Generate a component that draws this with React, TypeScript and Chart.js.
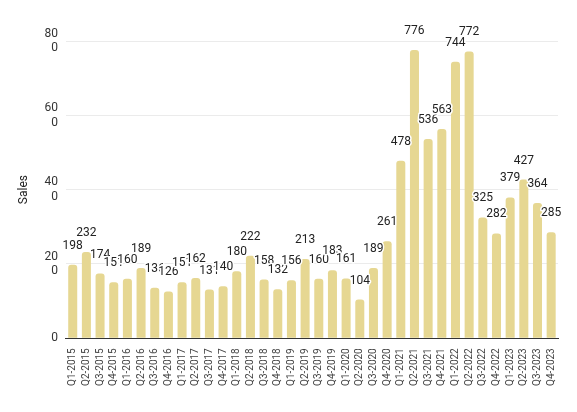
import { useEffect, useRef } from 'react'
import { Chart, registerables } from 'chart.js'

Chart.register(...registerables)

const quarters = [
  'Q1-2015', 'Q2-2015', 'Q3-2015', 'Q4-2015',
  'Q1-2016', 'Q2-2016', 'Q3-2016', 'Q4-2016',
  'Q1-2017', 'Q2-2017', 'Q3-2017', 'Q4-2017',
  'Q1-2018', 'Q2-2018', 'Q3-2018', 'Q4-2018',
  'Q1-2019', 'Q2-2019', 'Q3-2019', 'Q4-2019',
  'Q1-2020', 'Q2-2020', 'Q3-2020', 'Q4-2020',
  'Q1-2021', 'Q2-2021', 'Q3-2021', 'Q4-2021',
  'Q1-2022', 'Q2-2022', 'Q3-2022', 'Q4-2022',
  'Q1-2023', 'Q2-2023', 'Q3-2023', 'Q4-2023',
]
const sales = [
  198, 232, 174, 151,
  160, 189, 136, 126,
  151, 162, 131, 140,
  180, 222, 158, 132,
  156, 213, 160, 183,
  161, 104, 189, 261,
  478, 776, 536, 563,
  744, 772, 325, 282,
  379, 427, 364, 285,
]
const yTicks = [0, 200, 400, 600, 800]

// value labels above each bar, black text with a white halo
const barLabels = {
  id: 'barLabels',
  afterDatasetsDraw(chart: any) {
    const ctx = chart.ctx
    const meta = chart.getDatasetMeta(0)
    ctx.save()
    ctx.font = '12px Roboto, "Noto Sans", sans-serif'
    ctx.textAlign = 'center'
    ctx.textBaseline = 'middle'
    ctx.lineJoin = 'round'
    meta.data.forEach((bar: any, i: number) => {
      const txt = String(sales[i])
      const y = bar.y - 19
      ctx.lineWidth = 3
      ctx.strokeStyle = '#ffffff'
      ctx.strokeText(txt, bar.x, y)
      ctx.fillStyle = '#222222'
      ctx.fillText(txt, bar.x, y)
    })
    ctx.restore()
  },
}

export default function App() {
  const canvasRef = useRef<HTMLCanvasElement | null>(null)

  useEffect(() => {
    document.body.style.margin = '0'
    if (!canvasRef.current) return
    const ctx = canvasRef.current.getContext('2d')
    if (!ctx) return

    const chart = new Chart(ctx, {
      type: 'bar',
      data: {
        labels: quarters,
        datasets: [{
          label: 'Sales',
          data: sales,
          backgroundColor: '#e6d792',
          borderRadius: { topLeft: 3, topRight: 3 },
          borderSkipped: 'bottom',
          barPercentage: 0.66,
          categoryPercentage: 1,
        }],
      },
      options: {
        animation: false,
        responsive: false,
        layout: { padding: { top: 41, right: 19, left: 17, bottom: 24 } },
        plugins: {
          legend: { display: false },
          tooltip: { enabled: false },
        },
        scales: {
          x: {
            grid: { display: false },
            border: { display: true, color: '#333333', width: 1 },
            ticks: {
              autoSkip: false,
              maxRotation: 90,
              minRotation: 90,
              color: '#444444',
              font: { size: 10, family: 'Roboto, "Noto Sans", sans-serif' },
              padding: 2,
            },
          },
          y: {
            min: 0,
            max: 800,
            afterBuildTicks: (axis: any) => {
              axis.ticks = yTicks.map(v => ({ value: v }))
            },
            grid: { color: '#ebebeb', drawTicks: false },
            border: { display: false },
            title: {
              display: true,
              text: 'Sales',
              color: '#222222',
              font: { size: 12, family: 'Roboto, "Noto Sans", sans-serif' },
              padding: { top: 0, bottom: 5 },
            },
            ticks: {
              color: '#333333',
              padding: 8,
              font: { size: 12, family: 'Roboto, "Noto Sans", sans-serif' },
              callback: (v: any) => {
                const s = String(v)
                return s.length > 2 ? [s.slice(0, 2), s.slice(2)] : s
              },
            },
          },
        },
      },
      plugins: [barLabels],
    })

    return () => chart.destroy()
  }, [])

  return (
    <div style={{ width: 577, height: 412 }}>
      <canvas ref={canvasRef} width={577} height={412}></canvas>
    </div>
  )
}
